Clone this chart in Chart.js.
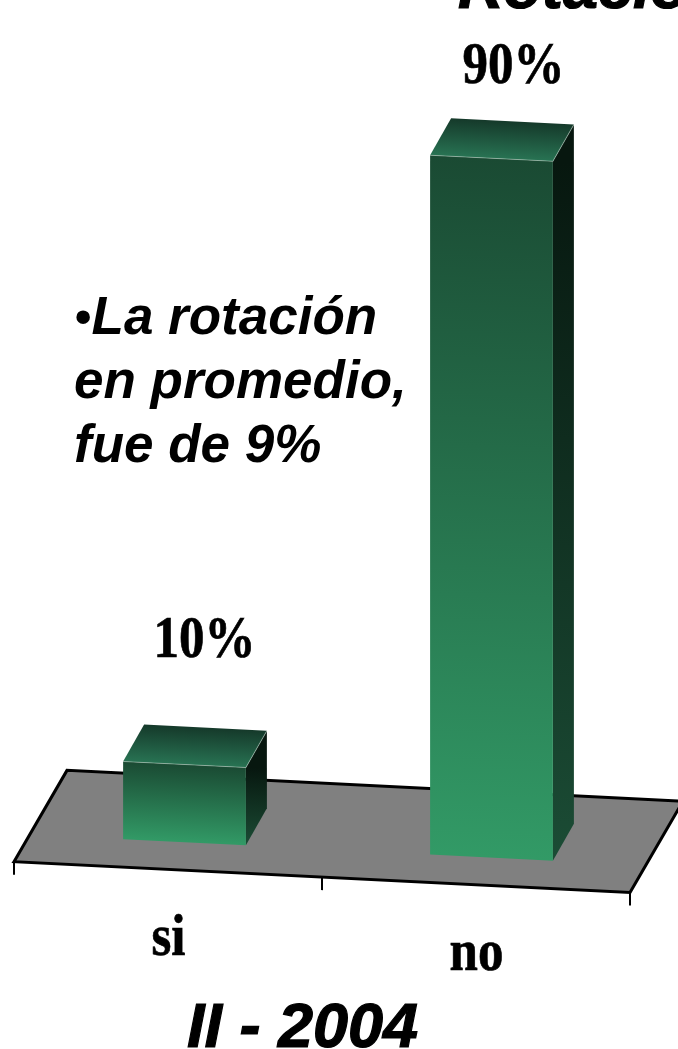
<!DOCTYPE html>
<html>
<head>
<meta charset="utf-8">
<title>Rotación</title>
<script src="https://cdn.jsdelivr.net/npm/chart.js@4"></script>
<style>
    html, body { margin: 0; padding: 0; background: #fff; width: 678px; height: 1049px; overflow: hidden; }
    canvas { display: block; }
    .note {
        position: absolute; left: 74px; top: 284px; margin: 0;
        font: italic bold 53px/64px "Liberation Sans", Arial, sans-serif;
        color: #000; white-space: nowrap;
    }
    .note .dot { font-weight: normal; font-size: 50px; line-height: 0; }
</style>
</head>
<body>
<canvas id="rotationChart" width="678" height="1049"></canvas>
<p class="note"><span class="dot">•</span>La rotación<br>en promedio,<br>fue de 9%</p>

<script>
const categories = ["si", "no"];
const values = [10, 90];
const chartTitle = "Rotación";
const periodLabel = "II - 2004";

// slant of the whole 3D box, and how far the bar's back face sits
const SLANT = 0.05;
const DEPTH_X = 21;
const DEPTH_Y = -38;

const SANS_ITALIC = 'italic bold 63px "Liberation Sans", Arial, sans-serif';
const SERIF_BOLD = 'bold 51px "Liberation Serif", "Times New Roman", serif';

// the labels in the original are not evenly placed
const valueLabelPos = [{ dx: 20, y: 657 }, { dx: 22, y: 83 }];
const tickLabelPos = [{ dx: -16, y: 955 }, { dx: -15, y: 970 }];

function faceGradient(ctx, y0, y1, from, to) {
    const g = ctx.createLinearGradient(0, y0, 0, y1);
    g.addColorStop(0, from);
    g.addColorStop(1, to);
    return g;
}

function fillPoly(ctx, pts, fill) {
    ctx.beginPath();
    pts.forEach((p, i) => i ? ctx.lineTo(p[0], p[1]) : ctx.moveTo(p[0], p[1]));
    ctx.closePath();
    ctx.fillStyle = fill;
    ctx.fill();
}

// stretched text, the serif labels are taller than they are wide
function serifLabel(ctx, text, x, y) {
    ctx.save();
    ctx.translate(x, y);
    ctx.scale(1, 1.16);
    ctx.font = SERIF_BOLD;
    ctx.fillStyle = "#000";
    ctx.strokeStyle = "#000";
    ctx.lineWidth = 0.6;
    ctx.textAlign = "center";
    ctx.textBaseline = "alphabetic";
    ctx.fillText(text, 0, 0);
    ctx.strokeText(text, 0, 0);
    ctx.restore();
}

const boxPlugin = {
    id: "box3d",
    beforeDatasetsDraw(chart) {
        const ctx = chart.ctx;
        const xs = chart.scales.x;
        const base = chart.scales.y.getPixelForValue(0);

        ctx.save();
        ctx.transform(1, SLANT, 0, 1, 0, 0);

        // Floor
        const fl = xs.left - 17, fr = xs.right - 15;
        const fy = base + 28, by = base - 66;
        ctx.beginPath();
        ctx.moveTo(fl, fy);
        ctx.lineTo(fl + 53, by);
        ctx.lineTo(fr + 53, by);
        ctx.lineTo(fr, fy);
        ctx.closePath();
        ctx.fillStyle = "#808080";
        ctx.fill();
        ctx.strokeStyle = "#000";
        ctx.lineWidth = 3;
        ctx.stroke();

        // Ticks below the front edge
        ctx.lineWidth = 2;
        for (let i = 0; i <= categories.length; i++) {
            const tx = fl + i * (fr - fl) / categories.length;
            ctx.beginPath();
            ctx.moveTo(tx, fy);
            ctx.lineTo(tx, fy + 13);
            ctx.stroke();
        }

        // Side and top faces of the bars
        chart.getDatasetMeta(0).data.forEach(bar => {
            const l = bar.x - bar.width / 2, r = bar.x + bar.width / 2;
            const t = bar.y, b = bar.base;

            fillPoly(ctx, [[r, t], [r + DEPTH_X, t + DEPTH_Y], [r + DEPTH_X, b + DEPTH_Y], [r, b]],
                faceGradient(ctx, t, b, "#07170f", "#1b4c35"));
            fillPoly(ctx, [[l, t], [l + DEPTH_X, t + DEPTH_Y], [r + DEPTH_X, t + DEPTH_Y], [r, t]],
                faceGradient(ctx, t + DEPTH_Y, t, "#15392a", "#287353"));
        });
    },
    afterDatasetsDraw(chart) {
        const ctx = chart.ctx;

        // thin light edges along the top face
        ctx.strokeStyle = "rgba(225,240,230,0.4)";
        ctx.lineWidth = 1;
        chart.getDatasetMeta(0).data.forEach(bar => {
            const l = bar.x - bar.width / 2, r = bar.x + bar.width / 2;
            ctx.beginPath();
            ctx.moveTo(l, bar.y);
            ctx.lineTo(r, bar.y);
            ctx.lineTo(r + DEPTH_X, bar.y + DEPTH_Y);
            ctx.stroke();
        });
        ctx.restore();

        // Value and category labels
        const xs = chart.scales.x;
        values.forEach((v, i) => {
            const x = xs.getPixelForTick(i);
            serifLabel(ctx, v + "%", x + valueLabelPos[i].dx, valueLabelPos[i].y);
            serifLabel(ctx, categories[i], x + tickLabelPos[i].dx, tickLabelPos[i].y);
        });

        // Title, cut off by the top of the page, and period
        ctx.save();
        ctx.font = SANS_ITALIC;
        ctx.fillStyle = "#000";
        ctx.strokeStyle = "#000";
        ctx.lineWidth = 1.2;
        ctx.textAlign = "left";
        ctx.textBaseline = "alphabetic";
        ctx.fillText(chartTitle, 458, 8);
        ctx.strokeText(chartTitle, 458, 8);
        ctx.fillText(periodLabel, 187, 1047);
        ctx.strokeText(periodLabel, 187, 1047);
        ctx.restore();
    }
};

new Chart(document.getElementById("rotationChart"), {
    type: "bar",
    data: {
        labels: categories,
        datasets: [{
            data: values,
            barPercentage: 1,
            categoryPercentage: 0.4,
            borderWidth: 0,
            clip: false,
            backgroundColor: c => {
                const top = c.chart.scales.y ? c.chart.scales.y.getPixelForValue(c.raw) : NaN;
                const bottom = c.chart.scales.y ? c.chart.scales.y.getPixelForValue(0) : NaN;
                if (!Number.isFinite(top) || !Number.isFinite(bottom)) return "#2d8a5c";
                return faceGradient(c.chart.ctx, top, bottom, "#1a4a33", "#329a66");
            }
        }]
    },
    options: {
        responsive: false,
        animation: false,
        events: [],
        layout: { padding: { left: 31, right: 33, top: 56, bottom: 216 } },
        scales: {
            x: { display: false },
            y: { display: false, min: 0, max: 100 }
        },
        plugins: {
            legend: { display: false },
            tooltip: { enabled: false }
        }
    },
    plugins: [boxPlugin]
});
</script>
</body>
</html>
